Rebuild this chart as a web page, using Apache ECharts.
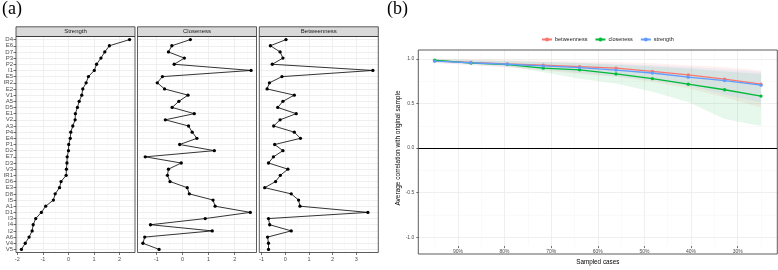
<!DOCTYPE html>
<html><head><meta charset="utf-8">
<script src="https://cdn.jsdelivr.net/npm/echarts@6/dist/echarts.min.js"></script>
<style>html,body{margin:0;padding:0;background:#fff}#c{width:778px;height:270px}</style>
</head><body><div id="c"></div>
<script>
// ---------- DATA ----------
const categories = ['D4','E6','D7','P3','P2','I1','E5','IR2','E2','V1','A5','D5','E1','V2','A3','P4','E4','P1','D2','E7','D3','V3','IR1','D6','E3','D8','I5','A1','D1','I3','I4','I2','A6','V4','V5'];
const facetNames = ['Strength','Closeness','Betweenness'];
const strength = [2.39,1.60,1.42,1.27,1.10,1.01,0.78,0.69,0.56,0.52,0.42,0.35,0.27,0.26,0.17,0.09,0.07,0.01,0.00,-0.05,-0.06,-0.08,-0.09,-0.29,-0.35,-0.52,-0.59,-0.89,-1.06,-1.28,-1.38,-1.42,-1.54,-1.69,-1.84];
const closeness = [0.30,-0.41,-0.54,0.07,-0.32,2.63,-0.77,-0.97,-0.69,0.21,-0.14,-0.40,0.45,-0.66,0.23,0.37,0.55,-0.11,1.22,-1.43,-0.05,-0.54,-0.58,-0.48,0.18,0.26,1.17,1.25,2.60,0.87,-1.23,1.14,-1.45,-1.52,-0.90];
const betweenness = [0.03,-0.63,-0.22,-0.10,-0.55,3.70,-0.14,-0.67,-0.77,0.38,-0.10,-0.32,0.46,-0.22,-0.49,0.38,0.64,-0.45,-0.10,-0.50,-0.71,0.11,-0.21,-0.41,-0.87,0.25,0.56,0.62,3.49,-0.71,-0.66,0.25,-0.75,-0.71,-0.71];
const facetTicks = [[-2,-1,0,1,2],[-1,0,1,2],[-1,0,1,2,3]];

const measures = ['betweenness','closeness','strength'];
const sampled = [95,87.2,79.4,71.7,63.9,56.1,48.3,40.6,32.8,25];
const corrBetweenness = [0.978,0.960,0.943,0.929,0.914,0.896,0.860,0.820,0.773,0.716];
const corrCloseness   = [0.986,0.953,0.936,0.896,0.878,0.832,0.778,0.716,0.654,0.583];
const corrStrength    = [0.975,0.957,0.940,0.921,0.903,0.875,0.842,0.795,0.756,0.705];
const lowBetweenness  = [0.955,0.930,0.900,0.870,0.830,0.800,0.740,0.670,0.570,0.455];
const highBetweenness = [1.000,0.995,0.990,0.985,0.975,0.965,0.950,0.930,0.910,0.870];
const lowCloseness    = [0.970,0.946,0.920,0.849,0.777,0.723,0.633,0.518,0.327,0.248];
const highCloseness   = [0.997,0.988,0.978,0.965,0.955,0.935,0.915,0.890,0.860,0.830];
const lowStrength     = [0.958,0.935,0.910,0.880,0.845,0.805,0.760,0.700,0.600,0.510];
const highStrength    = [0.992,0.985,0.975,0.965,0.955,0.945,0.930,0.910,0.885,0.855];
const bXTicks = [90,80,70,60,50,40,30];
const bYTicks = [-1,-0.5,0,0.5,1];

// ---------- LAYOUT ----------
const FONT = 'Liberation Sans, Arial, sans-serif';
const PA = {top: 36.5, height: 216, width: 119, lefts: [16, 137.5, 259.3]};
const STRIP = {top: 26.8, height: 9.7};
const PB = {left: 418.3, top: 50, width: 359, height: 204};
const colors = {betweenness:'#F8766D', closeness:'#00BA38', strength:'#619CFF'};
const GRID_MAJ = '#ebebeb', GRID_MIN = '#f4f4f4', FRAME = '#333333';

function expand(lo, hi, f){ const r = hi - lo; return [lo - f*r, hi + f*r]; }
function minorsOf(range, step, majors){
  const out = [];
  for (let k = Math.ceil(range[0]/step); k <= Math.floor(range[1]/step); k++){
    const v = +(k*step).toFixed(6);
    if (majors.indexOf(v) < 0) out.push(v);
  }
  return out;
}
const fmtNum = v => (v < 0 ? '-' : '') + Math.abs(v);
const noLine = {show:false, onZero:false};

const grids = [], xAxes = [], yAxes = [], series = [], graphics = [];
const facetData = [strength, closeness, betweenness];

facetData.forEach((vals, i) => {
  const range = expand(Math.min(...vals), Math.max(...vals), 0.05);
  const majors = facetTicks[i];
  const minors = minorsOf(range, 0.5, majors);
  const left = PA.lefts[i];
  grids.push({left: left, top: PA.top, width: PA.width, height: PA.height, containLabel: false});
  xAxes.push({type:'value', gridIndex:i, min:range[0], max:range[1], position:'bottom',
    axisLine:noLine,
    axisTick:{show:true, length:2.5, customValues: majors, lineStyle:{color:FRAME, width:0.7}},
    axisLabel:{customValues: majors, fontSize:5.5, color:'#4d4d4d', margin:4, fontFamily:FONT, formatter: fmtNum},
    splitLine:{show:true, lineStyle:{color:GRID_MAJ, width:0.8}}});
  xAxes.push({type:'value', gridIndex:i, min:range[0], max:range[1], position:'top',
    axisLine:noLine, axisTick:{show:false, customValues: minors}, axisLabel:{show:false},
    splitLine:{show:true, lineStyle:{color:GRID_MIN, width:0.5}}});
  yAxes.push({type:'category', gridIndex:i, data:categories, inverse:true, boundaryGap:true, position:'left',
    axisLine:noLine,
    axisTick:{show:i===0, alignWithLabel:true, interval:0, length:2.5, lineStyle:{color:FRAME, width:0.7}},
    axisLabel:{show:i===0, interval:0, fontSize:6, color:'#4d4d4d', margin:3, fontFamily:FONT},
    splitLine:{show:true, alignWithLabel:true, interval:0, lineStyle:{color:GRID_MAJ, width:0.8}}});
  series.push({type:'line', xAxisIndex:2*i, yAxisIndex:i, silent:true, animation:false,
    data: vals.map((v,k) => [v, categories[k]]),
    symbol:'circle', symbolSize:3.3, showSymbol:true,
    lineStyle:{color:'#000', width:0.8}, itemStyle:{color:'#000'}});
  graphics.push({type:'rect', z:100, shape:{x:left, y:STRIP.top, width:PA.width, height:STRIP.height},
    style:{fill:'#d9d9d9', stroke:FRAME, lineWidth:0.8}});
  graphics.push({type:'text', z:101, style:{text:facetNames[i], x:left + PA.width/2, y:STRIP.top + STRIP.height/2,
    align:'center', verticalAlign:'middle', font:'6px ' + FONT, fill:'#1a1a1a'}});
  graphics.push({type:'rect', z:100, shape:{x:left, y:PA.top, width:PA.width, height:PA.height},
    style:{fill:'none', stroke:FRAME, lineWidth:0.8}});
});

// ---------- PANEL B ----------
const gb = 3;
const bx = expand(Math.min(...sampled), Math.max(...sampled), 0.05);
const by = expand(-1, 1, 0.05);
grids.push({left: PB.left, top: PB.top, width: PB.width, height: PB.height});
const bxMinor = minorsOf(bx, 5, bXTicks);
const byMinor = minorsOf(by, 0.25, bYTicks);
xAxes.push({type:'value', gridIndex:gb, inverse:true, min:bx[0], max:bx[1], position:'bottom',
  name:'Sampled cases', nameLocation:'middle', nameGap:9,
  nameTextStyle:{fontSize:6.3, color:'#000', fontFamily:FONT},
  axisLine:noLine,
  axisTick:{show:true, length:2, customValues:bXTicks, lineStyle:{color:FRAME, width:0.7}},
  axisLabel:{customValues:bXTicks, fontSize:5, color:'#4d4d4d', margin:3, fontFamily:FONT, formatter: v => v + '%'},
  splitLine:{show:true, lineStyle:{color:GRID_MAJ, width:0.8}}});
xAxes.push({type:'value', gridIndex:gb, inverse:true, min:bx[0], max:bx[1], position:'top',
  axisLine:noLine, axisTick:{show:false, customValues:bxMinor}, axisLabel:{show:false},
  splitLine:{show:true, lineStyle:{color:GRID_MIN, width:0.5}}});
yAxes.push({type:'value', gridIndex:gb, min:by[0], max:by[1], position:'left',
  name:'Average correlation with original sample', nameLocation:'middle', nameGap:16, nameRotate:90,
  nameTextStyle:{fontSize:6.5, color:'#000', fontFamily:FONT},
  axisLine:noLine,
  axisTick:{show:true, length:2, customValues:bYTicks, lineStyle:{color:FRAME, width:0.7}},
  axisLabel:{customValues:bYTicks, fontSize:5, color:'#4d4d4d', margin:4, fontFamily:FONT, formatter: v => v.toFixed(1)},
  splitLine:{show:true, lineStyle:{color:GRID_MAJ, width:0.8}}});
yAxes.push({type:'value', gridIndex:gb, min:by[0], max:by[1], position:'right',
  axisLine:noLine, axisTick:{show:false, customValues:byMinor}, axisLabel:{show:false},
  splitLine:{show:true, lineStyle:{color:GRID_MIN, width:0.5}}});

const bxi = 6, byi = 3;
const corr = {betweenness:corrBetweenness, closeness:corrCloseness, strength:corrStrength};
const lows = {betweenness:lowBetweenness, closeness:lowCloseness, strength:lowStrength};
const highs = {betweenness:highBetweenness, closeness:highCloseness, strength:highStrength};

measures.forEach(m => {
  const lo = lows[m], hi = highs[m];
  series.push({type:'custom', name: m + ' band', xAxisIndex:bxi, yAxisIndex:byi, silent:true, animation:false, z:1,
    data:[[sampled[0], lo[0]]],
    renderItem: (params, api) => {
      const top = sampled.map((x,k) => api.coord([x, hi[k]]));
      const bot = sampled.map((x,k) => api.coord([x, lo[k]])).reverse();
      return {type:'polygon', shape:{points: top.concat(bot)}, style:{fill: colors[m], opacity:0.1}};
    }});
});
series.push({type:'line', name:'zero', xAxisIndex:bxi, yAxisIndex:byi, data:[], silent:true, animation:false, z:2,
  markLine:{silent:true, symbol:'none', animation:false, label:{show:false},
    lineStyle:{color:'#000', width:1, type:'solid'}, data:[{yAxis:0}]}});
measures.forEach(m => {
  series.push({type:'line', name:m, xAxisIndex:bxi, yAxisIndex:byi, silent:true, animation:false, z:3,
    data: sampled.map((x,k) => [x, corr[m][k]]),
    symbol:'circle', symbolSize:3.3, color:colors[m],
    lineStyle:{color:colors[m], width:1.3}, itemStyle:{color:colors[m]}});
});
graphics.push({type:'rect', z:100, shape:{x:PB.left, y:PB.top, width:PB.width, height:PB.height},
  style:{fill:'none', stroke:FRAME, lineWidth:0.8}});
graphics.push({type:'text', z:101, style:{text:'(a)', x:2, y:0, font:'18px Liberation Serif, serif', fill:'#000'}});
graphics.push({type:'text', z:101, style:{text:'(b)', x:387, y:0, font:'18px Liberation Serif, serif', fill:'#000'}});

const chart = echarts.init(document.getElementById('c'), null, {renderer:'canvas'});
chart.setOption({
  animation:false,
  backgroundColor:'#ffffff',
  textStyle:{fontFamily:FONT},
  grid: grids, xAxis: xAxes, yAxis: yAxes, series: series,
  legend:{data: measures, left:536, top:31.5, itemWidth:10, itemHeight:5, itemGap:7,
    textStyle:{fontSize:5.5, color:'#1a1a1a', fontFamily:FONT, padding:[0,0,0,-2]}},
  graphic: graphics
});
</script></body></html>
